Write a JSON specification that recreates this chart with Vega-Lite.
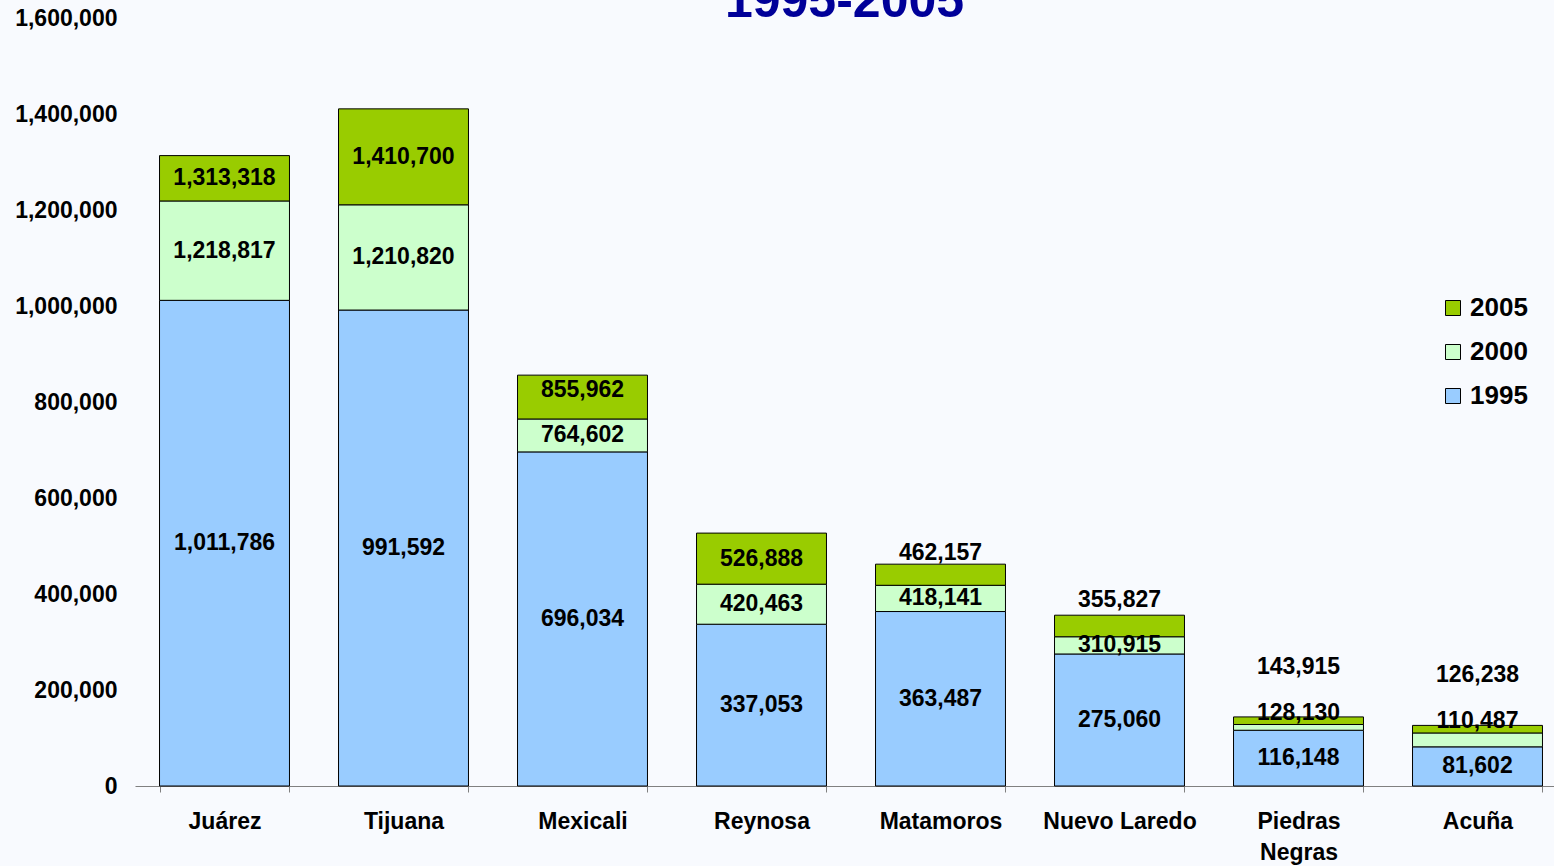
{
  "$schema": "https://vega.github.io/schema/vega-lite/v6.json",
  "width": 1419,
  "height": 768,
  "autosize": {"type": "none"},
  "padding": {"left": 135, "top": 18, "right": 0, "bottom": 80},
  "background": "#f8fafe",
  "config": {"view": {"stroke": null}, "font": "Liberation Sans"},
  "datasets": {
    "cities": [
      {"city": "Juárez", "year": "1995", "value": 1011786},
      {"city": "Juárez", "year": "2000", "value": 1218817},
      {"city": "Juárez", "year": "2005", "value": 1313318},
      {"city": "Tijuana", "year": "1995", "value": 991592},
      {"city": "Tijuana", "year": "2000", "value": 1210820},
      {"city": "Tijuana", "year": "2005", "value": 1410700},
      {"city": "Mexicali", "year": "1995", "value": 696034},
      {"city": "Mexicali", "year": "2000", "value": 764602},
      {"city": "Mexicali", "year": "2005", "value": 855962},
      {"city": "Reynosa", "year": "1995", "value": 337053},
      {"city": "Reynosa", "year": "2000", "value": 420463},
      {"city": "Reynosa", "year": "2005", "value": 526888},
      {"city": "Matamoros", "year": "1995", "value": 363487},
      {"city": "Matamoros", "year": "2000", "value": 418141},
      {"city": "Matamoros", "year": "2005", "value": 462157},
      {"city": "Nuevo Laredo", "year": "1995", "value": 275060},
      {"city": "Nuevo Laredo", "year": "2000", "value": 310915},
      {"city": "Nuevo Laredo", "year": "2005", "value": 355827},
      {"city": "Piedras Negras", "year": "1995", "value": 116148},
      {"city": "Piedras Negras", "year": "2000", "value": 128130},
      {"city": "Piedras Negras", "year": "2005", "value": 143915},
      {"city": "Acuña", "year": "1995", "value": 81602},
      {"city": "Acuña", "year": "2000", "value": 110487},
      {"city": "Acuña", "year": "2005", "value": 126238}
    ],
    "heading": [{"title": "1995-2005"}]
  },
  "resolve": {"scale": {"x": "independent"}, "axis": {"x": "independent"}},
  "layer": [
    {
      "data": {"name": "cities"},
      "transform": [
        {"window": [{"op": "lag", "field": "value", "as": "prev"}], "groupby": ["city"], "sort": [{"field": "year"}]},
        {"calculate": "datum.prev == null ? 0 : datum.prev", "as": "base"},
        {"calculate": "(datum.base + datum.value) / 2", "as": "mid"},
        {"window": [{"op": "lag", "field": "mid", "as": "prevMid"}], "groupby": ["city"], "sort": [{"field": "year"}]},
        {"calculate": "datum.prevMid == null ? datum.mid : max(datum.mid, datum.prevMid + 95000)", "as": "lab1"},
        {"window": [{"op": "lag", "field": "lab1", "as": "prevLab"}], "groupby": ["city"], "sort": [{"field": "year"}]},
        {"calculate": "datum.year == '2005' ? max(datum.mid, datum.prevLab + 95000) : datum.lab1", "as": "labelPos"}
      ],
      "encoding": {
        "x": {
          "field": "city",
          "type": "nominal",
          "scale": {
            "domain": ["Juárez", "Tijuana", "Mexicali", "Reynosa", "Matamoros", "Nuevo Laredo", "Piedras Negras", "Acuña"],
            "range": [0, 1432],
            "paddingInner": 0.274,
            "paddingOuter": 0.137
          },
          "axis": {
            "title": null,
            "labelAngle": 0,
            "labelFontSize": 23,
            "labelFontWeight": "bold",
            "labelColor": "#000000",
            "labelFont": "Liberation Sans",
            "labelLimit": 0,
            "labelPadding": 18,
            "labelLineHeight": 31,
            "labelExpr": "datum.value == 'Piedras Negras' ? ['Piedras', 'Negras'] : datum.label",
            "tickBand": "extent",
            "tickSize": 6,
            "tickColor": "#808080",
            "domainColor": "#808080",
            "domainWidth": 1,
            "grid": false
          }
        }
      },
      "layer": [
        {
          "mark": {"type": "bar", "stroke": "#000000", "strokeWidth": 1, "opacity": 1},
          "encoding": {
            "y": {
              "field": "value",
              "type": "quantitative",
              "scale": {"domain": [0, 1600000], "nice": false, "zero": true},
              "axis": {
                "title": null,
                "values": [0, 200000, 400000, 600000, 800000, 1000000, 1200000, 1400000, 1600000],
                "format": ",d",
                "domain": false,
                "ticks": false,
                "grid": false,
                "labelFontSize": 23,
                "labelFontWeight": "bold",
                "labelColor": "#000000",
                "labelFont": "Liberation Sans",
                "labelPadding": 18
              }
            },
            "y2": {"field": "base"},
            "color": {
              "field": "year",
              "type": "nominal",
              "scale": {"domain": ["2005", "2000", "1995"], "range": ["#99cc00", "#ccffcc", "#99ccff"]},
              "legend": {
                "title": null,
                "orient": "none",
                "legendX": 1305,
                "legendY": 277,
                "padding": 0,
                "symbolType": "square",
                "symbolSize": 225,
                "symbolStrokeColor": "#000000",
                "symbolStrokeWidth": 1,
                "symbolOpacity": 1,
                "labelFontSize": 26,
                "labelFontWeight": "bold",
                "labelColor": "#000000",
                "labelFont": "Liberation Sans",
                "labelOffset": 4,
                "rowPadding": 18
              }
            }
          }
        },
        {
          "mark": {"type": "text", "align": "center", "baseline": "middle", "fontSize": 23, "fontWeight": "bold", "color": "#000000", "font": "Liberation Sans"},
          "encoding": {
            "y": {"field": "labelPos", "type": "quantitative"},
            "text": {"field": "value", "type": "quantitative", "format": ",d"}
          }
        }
      ]
    },
    {
      "data": {"name": "heading"},
      "mark": {"type": "text", "align": "center", "baseline": "alphabetic", "dy": -1, "fontSize": 50, "fontWeight": "bold", "color": "#000099", "font": "Liberation Sans"},
      "encoding": {
        "x": {"datum": 0.5, "type": "quantitative", "scale": {"domain": [0, 1]}, "axis": null},
        "y": {"datum": 1600000, "type": "quantitative"},
        "text": {"field": "title", "type": "nominal"}
      }
    }
  ]
}
